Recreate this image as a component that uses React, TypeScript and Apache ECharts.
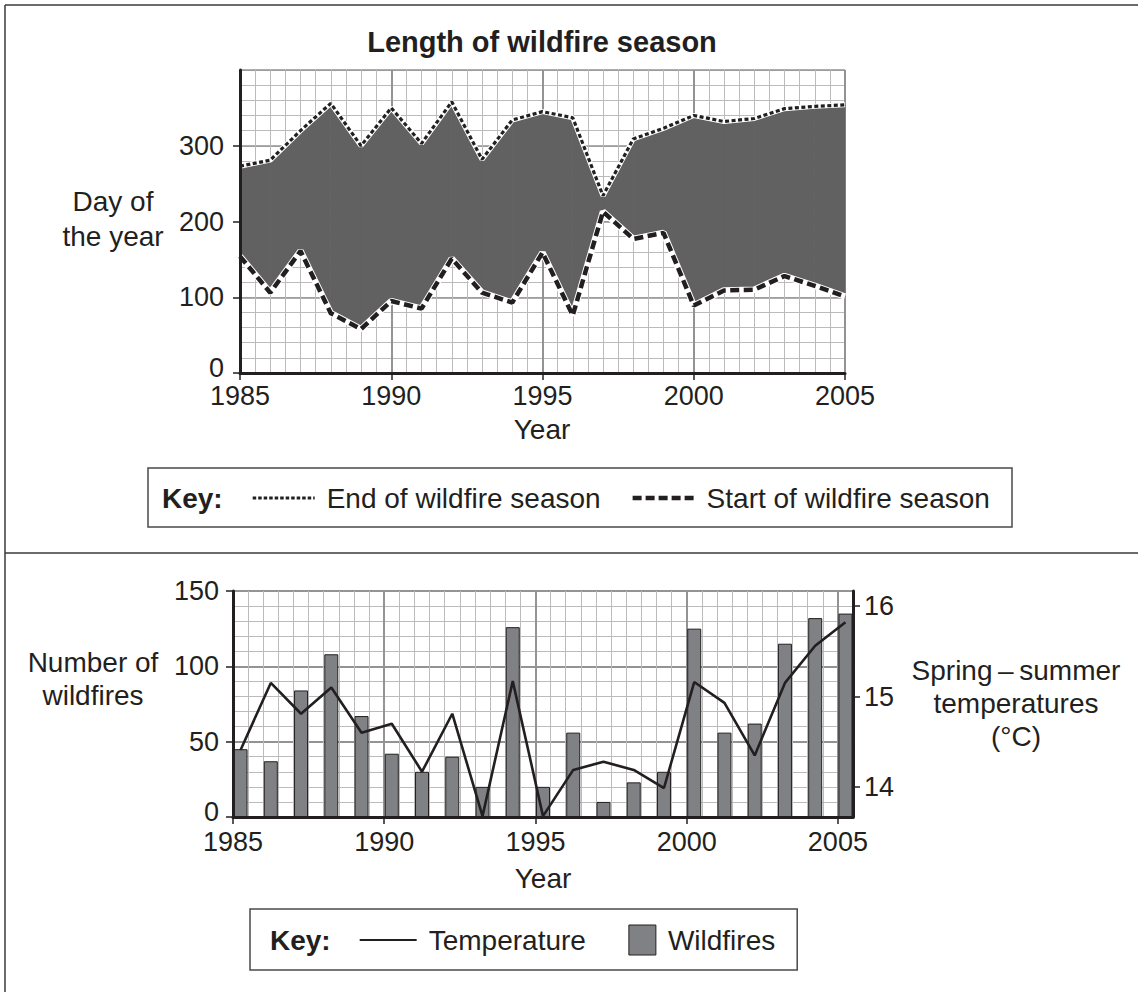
import React, { useEffect, useRef } from 'react';
import * as echarts from 'echarts';

const years = [1985, 1986, 1987, 1988, 1989, 1990, 1991, 1992, 1993, 1994, 1995, 1996, 1997, 1998, 1999, 2000, 2001, 2002, 2003, 2004, 2005];
const seasonEnd = [273, 281, 320, 356, 300, 350, 303, 358, 282, 334, 345, 337, 234, 309, 323, 340, 332, 336, 349, 352, 354];
const seasonStart = [154, 106, 161, 79, 58, 95, 85, 151, 106, 93, 159, 76, 213, 177, 185, 89, 109, 110, 128, 115, 101];
const wildfires = [45, 37, 84, 108, 67, 42, 30, 40, 20, 126, 20, 56, 10, 23, 30, 125, 56, 62, 115, 132, 135];
const temperatures = [14.41, 15.15, 14.81, 15.1, 14.6, 14.7, 14.17, 14.81, 13.68, 15.17, 13.68, 14.19, 14.28, 14.19, 13.99, 15.16, 14.93, 14.35, 15.15, 15.56, 15.82];

const yearTicks = [1985, 1990, 1995, 2000, 2005];
const dayTicks = [0, 100, 200, 300];
const fireTicks = [0, 50, 100, 150];
const tempTicks = [14, 15, 16];

const FAMILY = '"Liberation Sans", Arial, Helvetica, sans-serif';
const INK = '#231f20';
const MINOR = '#bbbbbb';
const MAJOR = '#939393';
const FILL = '#616161';
const BAR = '#808184';
const BAR_SHIFT = 0.25; // bars sit in the first half of each year
const TICK_FONT = 27;

function measure(text: string, font: string): number {
  const ctx = document.createElement('canvas').getContext('2d')!;
  ctx.font = font;
  return ctx.measureText(text).width;
}

function splitAxis(gridIndex: number, min: number, max: number, interval: number, color: string, width: number, pos: string) {
  return {
    type: 'value', gridIndex, min, max, interval, position: pos,
    axisLine: { show: false }, axisTick: { show: false }, axisLabel: { show: false },
    splitLine: { show: true, lineStyle: { color, width } },
    z: 0,
  };
}

function frameAxis(gridIndex: number, min: number, max: number, interval: number, ticks: number[], pos: string, margin: number, liftZero = false) {
  return {
    type: 'value', gridIndex, min, max, interval, position: pos,
    axisLine: { show: true, onZero: false, lineStyle: { color: INK, width: 3 } },
    axisTick: { show: true, length: 7, customValues: ticks, lineStyle: { color: INK, width: 1.5 } },
    axisLabel: {
      show: true, customValues: ticks, color: INK, fontSize: TICK_FONT, fontFamily: FAMILY, margin,
      lineHeight: 22,
      showMinLabel: true, showMaxLabel: true,
      formatter: (v: number) => {
        if (ticks.indexOf(v) < 0) return '';
        if (liftZero && v === 0) return '{lo|0}';
        return String(v);
      },
      rich: { lo: { fontSize: TICK_FONT, fontFamily: FAMILY, color: INK, lineHeight: 22, padding: [0, 0, 10, 0] } },
    },
    splitLine: { show: false },
    z: 10,
  };
}

function text(t: string, x: number, y: number, opts: any = {}) {
  return {
    type: 'text', x, y, z: 100,
    style: {
      text: t, fill: INK,
      font: `${opts.bold ? 'bold ' : ''}${opts.size || 28}px ${FAMILY}`,
      textAlign: opts.align || 'center', textVerticalAlign: 'middle',
      lineHeight: opts.lineHeight || 34,
    },
  };
}

function buildOption() {
  const f = `28px ${FAMILY}`;
  const fb = `bold 28px ${FAMILY}`;

  // top key layout
  const topKeyY = 498;
  let x = 162;
  const topKey: any[] = [];
  topKey.push({ type: 'rect', shape: { x: 148, y: 468, width: 864, height: 59 }, style: { fill: 'none', stroke: '#4a4a4a', lineWidth: 1.5 }, z: 100 });
  topKey.push(text('Key:', x, topKeyY, { bold: true, align: 'left' }));
  x += measure('Key:', fb) + 30;
  topKey.push({ type: 'line', shape: { x1: x, y1: topKeyY, x2: x + 62, y2: topKeyY }, style: { stroke: INK, lineWidth: 3, lineDash: [3.5, 2] }, z: 100 });
  x += 62 + 12;
  topKey.push(text('End of wildfire season', x, topKeyY, { align: 'left' }));
  x += measure('End of wildfire season', f) + 32;
  topKey.push({ type: 'line', shape: { x1: x, y1: topKeyY, x2: x + 62, y2: topKeyY }, style: { stroke: INK, lineWidth: 4.5, lineDash: [9, 4] }, z: 100 });
  x += 62 + 12;
  topKey.push(text('Start of wildfire season', x, topKeyY, { align: 'left' }));

  // bottom key layout
  const botKeyY = 940;
  const botLeft = 250;
  x = botLeft + 20;
  const botKey: any[] = [];
  botKey.push(text('Key:', x, botKeyY, { bold: true, align: 'left' }));
  x += measure('Key:', fb) + 29;
  botKey.push({ type: 'line', shape: { x1: x, y1: botKeyY, x2: x + 57, y2: botKeyY }, style: { stroke: INK, lineWidth: 2 }, z: 100 });
  x += 57 + 12;
  botKey.push(text('Temperature', x, botKeyY, { align: 'left' }));
  x += measure('Temperature', f) + 43;
  botKey.push({ type: 'rect', shape: { x, y: botKeyY - 15, width: 27, height: 30 }, style: { fill: BAR, stroke: INK, lineWidth: 1 }, z: 100 });
  x += 27 + 12;
  botKey.push(text('Wildfires', x, botKeyY, { align: 'left' }));
  x += measure('Wildfires', f) + 22;
  botKey.push({ type: 'rect', shape: { x: botLeft, y: 909, width: x - botLeft, height: 61 }, style: { fill: 'none', stroke: '#4a4a4a', lineWidth: 1.5 }, z: 100 });

  const graphic: any[] = [
    { type: 'line', shape: { x1: 5, y1: 5, x2: 1138, y2: 5 }, style: { stroke: '#3a3a3a', lineWidth: 1.5 }, z: 100 },
    { type: 'line', shape: { x1: 5, y1: 5, x2: 5, y2: 992 }, style: { stroke: '#3a3a3a', lineWidth: 1.5 }, z: 100 },
    { type: 'line', shape: { x1: 5, y1: 553, x2: 1138, y2: 553 }, style: { stroke: '#3a3a3a', lineWidth: 1.5 }, z: 100 },
    text('Length of wildfire season', 542, 42, { bold: true, size: 29 }),
    text('Day of\nthe year', 113, 219, { lineHeight: 35 }),
    text('Year', 542, 429),
    text('Number of\nwildfires', 93, 679, { lineHeight: 33 }),
    text('Spring\u2009\u2013\u2009summer\ntemperatures\n(°C)', 1016, 703, { lineHeight: 33 }),
    text('Year', 543, 878),
    ...topKey,
    ...botKey,
  ];

  const pts = (vals: number[], shift = 0) => years.map((y, i) => [y + shift, vals[i]]);
  // band segments: [year, start, end, nextYear, nextStart, nextEnd]
  const band = years.slice(0, -1).map((y, i) => [y, seasonStart[i], seasonEnd[i], years[i + 1], seasonStart[i + 1], seasonEnd[i + 1]]);

  return {
    animation: false,
    grid: [
      { left: 240, top: 70, width: 605, height: 303 },
      { left: 233, top: 591, width: 620, height: 226 },
    ],
    xAxis: [
      splitAxis(0, 1985, 2005, 0.5, MINOR, 1, 'bottom'),
      splitAxis(0, 1985, 2005, 5, MAJOR, 2, 'bottom'),
      frameAxis(0, 1985, 2005, 5, yearTicks, 'bottom', 12),
      splitAxis(1, 1985, 2005.5, 0.5, MINOR, 1, 'bottom'),
      splitAxis(1, 1985, 2005.5, 5, MAJOR, 2, 'bottom'),
      frameAxis(1, 1985, 2005.5, 5, yearTicks, 'bottom', 14),
    ],
    yAxis: [
      splitAxis(0, 0, 400, 20, MINOR, 1, 'left'),
      splitAxis(0, 0, 400, 100, MAJOR, 1.5, 'left'),
      frameAxis(0, 0, 400, 100, dayTicks, 'left', 16, true),
      splitAxis(1, 0, 150, 10, MINOR, 1, 'left'),
      splitAxis(1, 0, 150, 50, MAJOR, 2, 'left'),
      frameAxis(1, 0, 150, 50, fireTicks, 'left', 14, true),
      frameAxis(1, 13.67, 16.165, 1, tempTicks, 'right', 11),
    ],
    graphic,
    series: [
      {
        type: 'custom', xAxisIndex: 1, yAxisIndex: 1, data: band, silent: true, clip: false,
        encode: { x: [0, 3], y: [1, 2, 4, 5] },
        renderItem: (params: any, api: any) => {
          const a = api.coord([api.value(0), api.value(1)]);
          const b = api.coord([api.value(0), api.value(2)]);
          const c = api.coord([api.value(3), api.value(5)]);
          const d = api.coord([api.value(3), api.value(4)]);
          return { type: 'polygon', shape: { points: [a, b, c, d] }, style: { fill: FILL, stroke: FILL, lineWidth: 0.8 } };
        },
      },
      { type: 'line', xAxisIndex: 1, yAxisIndex: 1, data: pts(seasonEnd), symbol: 'none', lineStyle: { color: '#ffffff', width: 5 }, silent: true },
      { type: 'line', xAxisIndex: 1, yAxisIndex: 1, data: pts(seasonEnd), symbol: 'none', lineStyle: { color: INK, width: 3.2, type: [4, 2.5] }, silent: true },
      { type: 'line', xAxisIndex: 1, yAxisIndex: 1, data: pts(seasonStart), symbol: 'none', lineStyle: { color: '#ffffff', width: 6.5 }, silent: true },
      { type: 'line', xAxisIndex: 1, yAxisIndex: 1, data: pts(seasonStart), symbol: 'none', lineStyle: { color: INK, width: 4.5, type: [9, 4.5] }, silent: true },
      { type: 'bar', xAxisIndex: 4, yAxisIndex: 4, data: pts(wildfires, BAR_SHIFT), barWidth: 14, itemStyle: { color: BAR, borderColor: INK, borderWidth: 1 }, silent: true },
      { type: 'line', xAxisIndex: 4, yAxisIndex: 6, data: pts(temperatures, BAR_SHIFT), symbol: 'none', lineStyle: { color: INK, width: 2.6 }, silent: true, z: 3 },
    ],
  };
}

export default function App() {
  const ref = useRef<HTMLDivElement>(null);
  useEffect(() => {
    document.body.style.margin = '0';
    document.body.style.overflow = 'hidden';
    const chart = echarts.init(ref.current!, null, { renderer: 'svg' });
    chart.setOption(buildOption() as any);
    return () => chart.dispose();
  }, []);
  return <div ref={ref} style={{ width: 1138, height: 992 }} />;
}
